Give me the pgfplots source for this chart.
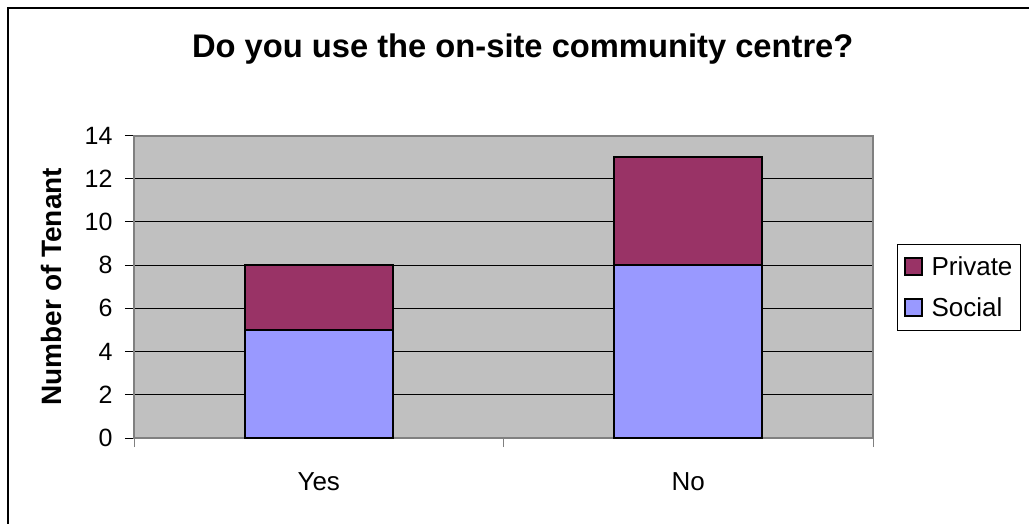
\documentclass[border=0pt]{standalone}
\usepackage{pgfplots}
\pgfplotsset{compat=1.18}
\usepackage{fontspec}
\setmainfont{Liberation Sans}
\definecolor{socialc}{HTML}{9999FF}
\definecolor{privatec}{HTML}{993366}
\definecolor{bgc}{HTML}{C0C0C0}
\definecolor{axc}{HTML}{808080}
\begin{document}
\begin{tikzpicture}[x=1pt,y=1pt]
\useasboundingbox (0,0) rectangle (1029,523);
\fill[white] (0,0) rectangle (1029,523);
\draw[line width=1.5pt] (8,-5) -- (8,515) -- (1035,515);
\begin{axis}[
  at={(134pt,85pt)}, anchor=south west,
  scale only axis, width=739pt, height=302.5pt,
  ybar stacked, bar width=0.4,
  xmin=0, xmax=2, ymin=0, ymax=14,
  xtick={0.5,1.5}, xticklabels={Yes,No},
  minor xtick={0,1,2},
  ytick={0,2,...,14},
  tick align=outside,
  major tick length=9pt, minor tick length=9pt,
  major x tick style={draw=none},
  minor x tick style={axc, line width=1pt},
  ytick style={black, line width=1pt},
  xtick pos=bottom, ytick pos=left,
  axis background/.style={fill=bgc},
  axis line style={axc, line width=2pt},
  ymajorgrids, grid style={black, line width=1pt},
  /pgf/number format/assume math mode=true,
  yticklabel style={font=\fontsize{25}{30}\selectfont, xshift=-9pt},
  xticklabel style={font=\fontsize{26}{30}\selectfont, yshift=-22pt},
  title={Do you use the on-site community centre?},
  title style={font=\fontsize{32.7}{40}\selectfont\bfseries, at={(0.526,1.266)}, anchor=center},
  ylabel={Number of Tenant},
  ylabel style={font=\fontsize{28}{32}\selectfont\bfseries, at={(-0.111,0.5)}, anchor=center, rotate=0},
  reverse legend,
  legend cell align=left,
  legend style={at={(1.0325,0.641)}, anchor=north west, draw=black, line width=1pt,
    font=\fontsize{26}{30}\selectfont, row sep=17pt, column sep=7pt, inner xsep=6pt, inner ysep=10pt},
  legend image code/.code={\draw[#1, draw=black, line width=2pt] (0pt,-8pt) rectangle (17pt,9pt);},
]
\addplot[fill=socialc, draw=black, line width=2pt] coordinates {(0.5,5) (1.5,8)};
\addplot[fill=privatec, draw=black, line width=2pt] coordinates {(0.5,3) (1.5,5)};
\legend{Social,Private}
\end{axis}
\end{tikzpicture}
\end{document}
